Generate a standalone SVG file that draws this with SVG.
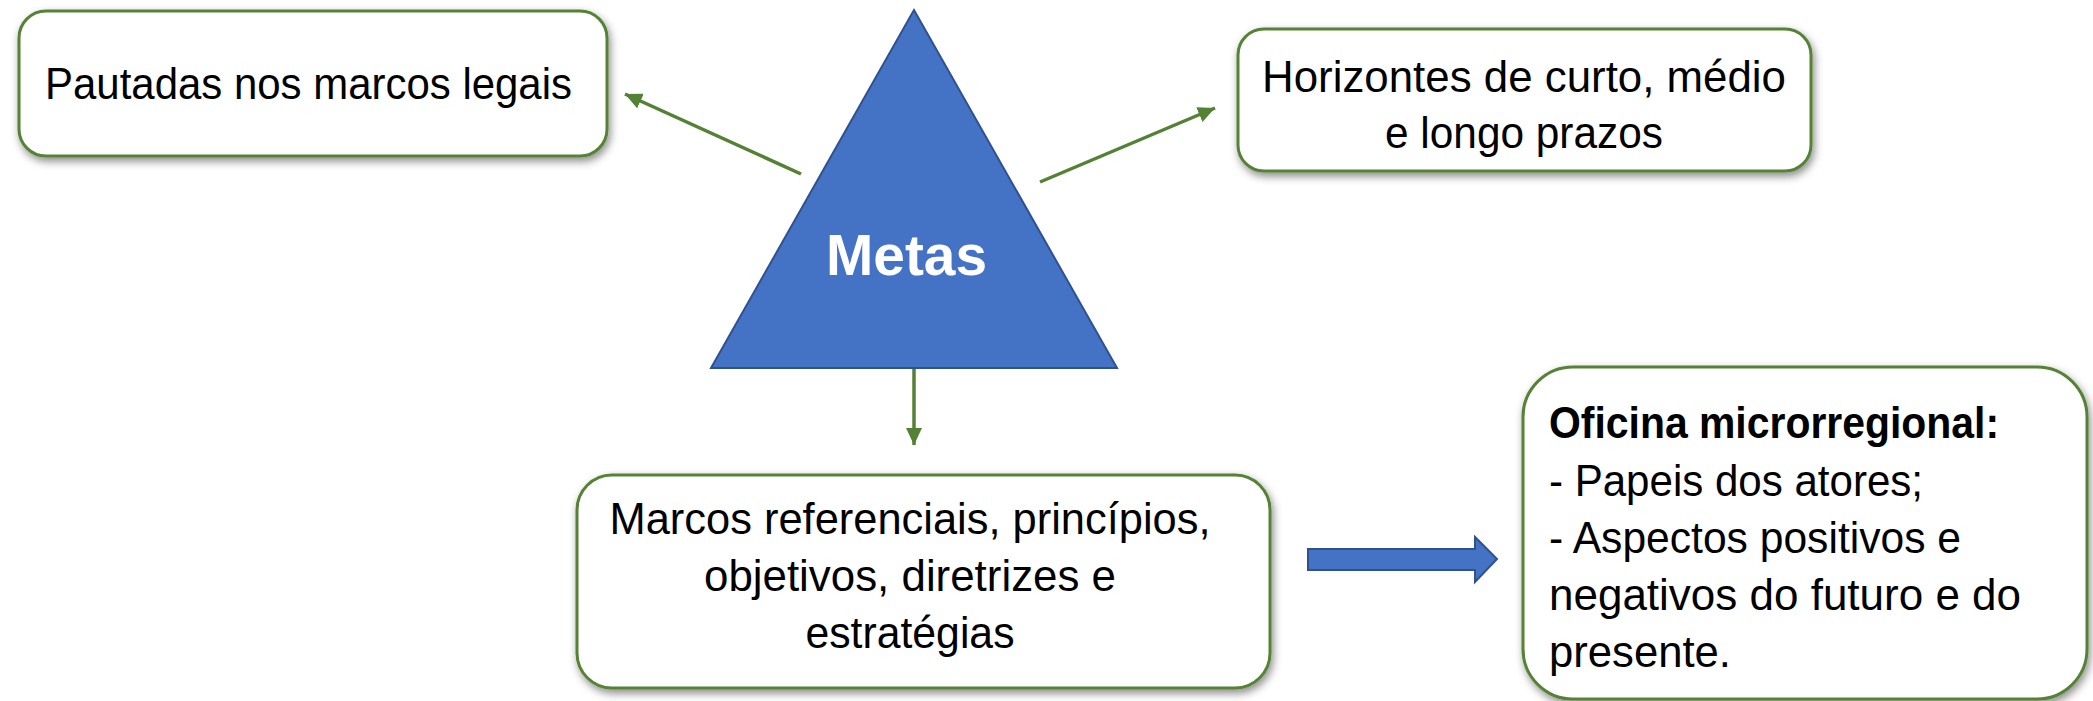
<svg xmlns="http://www.w3.org/2000/svg" width="2093" height="701" viewBox="0 0 2093 701">
<style>
.box{fill:#ffffff;stroke:#548235;stroke-width:3;filter:url(#sh)}
.t{font-family:"Liberation Sans",Arial,sans-serif;font-size:44px;fill:#000000}
.b{font-weight:bold}
.conn{stroke:#548235;stroke-width:3.5;fill:none}
.blue{fill:#4472C4;stroke:#2F528F;stroke-width:2}
</style>
<defs>
<filter id="sh" x="-10%" y="-10%" width="120%" height="130%">
<feDropShadow dx="2" dy="4" stdDeviation="4" flood-color="#000000" flood-opacity="0.45"/>
</filter>
<marker id="ah" markerUnits="userSpaceOnUse" markerWidth="18" markerHeight="16" refX="17" refY="8" orient="auto">
<path d="M0,0 L17,8 L0,16 z" fill="#548235"/>
</marker>
</defs>
<g id="connectors">
<line class="conn" x1="801" y1="174" x2="625" y2="94" marker-end="url(#ah)"/>
<line class="conn" x1="1040" y1="182" x2="1215" y2="108" marker-end="url(#ah)"/>
<line class="conn" x1="914" y1="369" x2="914" y2="445" marker-end="url(#ah)"/>
<path id="block-arrow" class="blue" d="M1308,549 L1475,549 L1475,537 L1497,559 L1475,582 L1475,570 L1308,570 z"/>
</g>
<g id="metas">
<polygon class="blue" points="914,10 711,368 1117,368"/>
<text class="t b" x="906.5" y="275" style="fill:#ffffff;font-size:58px" text-anchor="middle" textLength="161" lengthAdjust="spacingAndGlyphs">Metas</text>
</g>
<g id="pautadas">
<rect class="box" x="19" y="11" width="588" height="145" rx="27"/>
<text class="t" x="45" y="99" textLength="527" lengthAdjust="spacingAndGlyphs">Pautadas nos marcos legais</text>
</g>
<g id="horizontes">
<rect class="box" x="1238" y="29" width="573" height="142" rx="26"/>
<text class="t" x="1524" y="92" text-anchor="middle" textLength="524" lengthAdjust="spacingAndGlyphs">Horizontes de curto, médio</text>
<text class="t" x="1524" y="148" text-anchor="middle" textLength="278" lengthAdjust="spacingAndGlyphs">e longo prazos</text>
</g>
<g id="marcos">
<rect class="box" x="577" y="475" width="693" height="213" rx="35"/>
<text class="t" x="910" y="534" text-anchor="middle" textLength="601" lengthAdjust="spacingAndGlyphs">Marcos referenciais, princípios,</text>
<text class="t" x="910" y="591" text-anchor="middle" textLength="412" lengthAdjust="spacingAndGlyphs">objetivos, diretrizes e</text>
<text class="t" x="910" y="648" text-anchor="middle" textLength="209" lengthAdjust="spacingAndGlyphs">estratégias</text>
</g>
<g id="oficina">
<rect class="box" x="1523" y="367" width="564" height="332" rx="50"/>
<text class="t b" x="1549" y="438" textLength="450" lengthAdjust="spacingAndGlyphs">Oficina microrregional:</text>
<text class="t" x="1549" y="496" textLength="374" lengthAdjust="spacingAndGlyphs">- Papeis dos atores;</text>
<text class="t" x="1549" y="553" textLength="412" lengthAdjust="spacingAndGlyphs">- Aspectos positivos e</text>
<text class="t" x="1549" y="610" textLength="472" lengthAdjust="spacingAndGlyphs">negativos do futuro e do</text>
<text class="t" x="1549" y="667" textLength="182" lengthAdjust="spacingAndGlyphs">presente.</text>
</g>
</svg>
